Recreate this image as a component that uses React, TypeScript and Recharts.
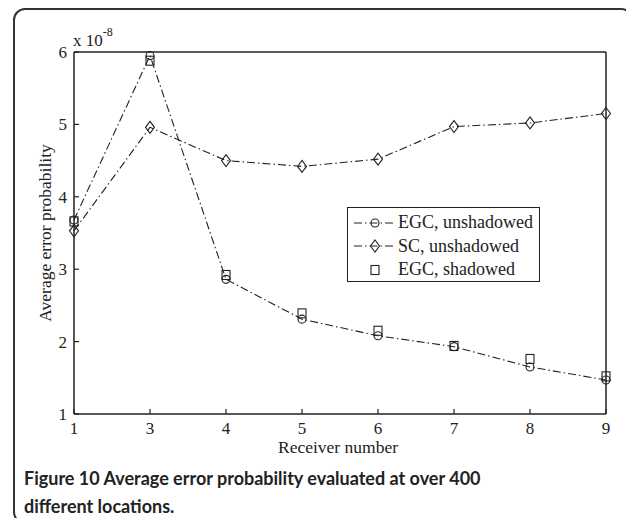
import React from 'react';
import { LineChart, Line, XAxis, YAxis } from 'recharts';

// receiver numbers as printed on the axis (the second one really reads "3")
const receivers = ['1', '3', '4', '5', '6', '7', '8', '9'];
// average error probability, in units of 1e-8
const egcUnshadowed = [3.68, 5.95, 2.86, 2.31, 2.08, 1.93, 1.65, 1.47];
const scUnshadowed = [3.53, 4.96, 4.5, 4.42, 4.52, 4.97, 5.02, 5.15];
const egcShadowed = [3.66, 5.88, 2.92, 2.39, 2.15, 1.94, 1.76, 1.52];
const yTicks = [1, 2, 3, 4, 5, 6];

const data = receivers.map((r, i) => ({
    receiver: r,
    egc: egcUnshadowed[i],
    sc: scUnshadowed[i],
    egcShadowed: egcShadowed[i],
}));

const INK = '#222';
const DASH = '8 3 1.5 3';
const serif = '"Liberation Serif", "Times New Roman", serif';

type Marker = 'circle' | 'diamond' | 'square';

const drawMarker = (kind: Marker, cx: number, cy: number, key?: React.Key) => {
    if (kind === 'circle') {
        return <circle key={key} cx={cx} cy={cy} r={4} fill="none" stroke={INK} strokeWidth={1.1} />;
    }
    if (kind === 'diamond') {
        const pts = `${cx},${cy - 6} ${cx + 4.5},${cy} ${cx},${cy + 6} ${cx - 4.5},${cy}`;
        return <polygon key={key} points={pts} fill="none" stroke={INK} strokeWidth={1.1} />;
    }
    return <rect key={key} x={cx - 4} y={cy - 4.5} width={8} height={9} fill="none" stroke={INK} strokeWidth={1.1} />;
};

const markerDot = (kind: Marker) => (props: any) => {
    const { cx, cy, index } = props;
    if (cx == null || cy == null) return <g key={`m-${kind}-${index}`} />;
    return drawMarker(kind, cx, cy, `m-${kind}-${index}`);
};

const series = [
    { key: 'egc', name: 'EGC, unshadowed', marker: 'circle' as Marker, line: true },
    { key: 'sc', name: 'SC, unshadowed', marker: 'diamond' as Marker, line: true },
    { key: 'egcShadowed', name: 'EGC, shadowed', marker: 'square' as Marker, line: false },
];

function LegendBox() {
    return (
        <div
            style={{
                position: 'absolute',
                left: 347,
                top: 207,
                width: 193,
                height: 75,
                border: `1px solid ${INK}`,
                background: '#fff',
                boxSizing: 'border-box',
                paddingTop: 3,
            }}
        >
            {series.map((s) => (
                <div key={s.key} style={{ display: 'flex', alignItems: 'center', height: 23.5 }}>
                    <svg width={46} height={20} style={{ marginLeft: 4 }}>
                        {s.line && <line x1={2} y1={10} x2={44} y2={10} stroke={INK} strokeWidth={1.1} strokeDasharray={DASH} />}
                        {drawMarker(s.marker, 23, 10)}
                    </svg>
                    <span style={{ fontFamily: serif, fontSize: 18, color: INK }}>{s.name}</span>
                </div>
            ))}
        </div>
    );
}

export default function App() {
    const tickStyle = { fontSize: 17, fill: INK, fontFamily: serif };

    return (
        <div style={{ position: 'relative', width: 634, height: 526, margin: -8, background: '#fff', overflow: 'hidden' }}>
            <div
                style={{
                    position: 'absolute',
                    left: 13,
                    top: 8,
                    width: 620,
                    height: 516,
                    border: '2px solid #333',
                    borderRadius: 12,
                    boxSizing: 'border-box',
                }}
            />

            <div style={{ position: 'absolute', left: 0, top: 0 }}>
                <LineChart width={634} height={470} data={data} margin={{ top: 51, right: 27, bottom: 26, left: 44 }}>
                    <XAxis
                        dataKey="receiver"
                        type="category"
                        interval={0}
                        height={30}
                        tick={tickStyle}
                        tickSize={-5}
                        tickMargin={13}
                        axisLine={{ stroke: INK, strokeWidth: 1.5 }}
                        tickLine={{ stroke: INK, strokeWidth: 1.2 }}
                    />
                    <XAxis
                        xAxisId="top"
                        orientation="top"
                        dataKey="receiver"
                        type="category"
                        interval={0}
                        height={1}
                        tick={false}
                        tickSize={-5}
                        axisLine={{ stroke: INK, strokeWidth: 1.5 }}
                        tickLine={{ stroke: INK, strokeWidth: 1.2 }}
                    />
                    <YAxis
                        type="number"
                        domain={[1, 6]}
                        ticks={yTicks}
                        interval={0}
                        width={30}
                        tick={tickStyle}
                        tickSize={-5}
                        tickMargin={12}
                        axisLine={{ stroke: INK, strokeWidth: 1.5 }}
                        tickLine={{ stroke: INK, strokeWidth: 1.2 }}
                    />
                    <YAxis
                        yAxisId="right"
                        orientation="right"
                        type="number"
                        domain={[1, 6]}
                        ticks={yTicks}
                        interval={0}
                        width={1}
                        tick={false}
                        tickSize={-5}
                        axisLine={{ stroke: INK, strokeWidth: 1.5 }}
                        tickLine={{ stroke: INK, strokeWidth: 1.2 }}
                    />
                    {series.map((s) => (
                        <Line
                            key={s.key}
                            dataKey={s.key}
                            name={s.name}
                            type="linear"
                            stroke={s.line ? INK : 'none'}
                            strokeWidth={1.1}
                            strokeDasharray={s.line ? DASH : undefined}
                            dot={markerDot(s.marker)}
                            activeDot={false}
                            isAnimationActive={false}
                        />
                    ))}
                </LineChart>
            </div>

            <div style={{ position: 'absolute', left: 73, top: 31, fontFamily: serif, fontSize: 17, color: INK, whiteSpace: 'nowrap' }}>
                x 10<span style={{ position: 'relative', top: -10, fontSize: 12 }}>-8</span>
            </div>

            <div
                style={{
                    position: 'absolute',
                    left: 45,
                    top: 233,
                    transform: 'translate(-50%, -50%) rotate(-90deg)',
                    fontFamily: serif,
                    fontSize: 17.5,
                    color: INK,
                    whiteSpace: 'nowrap',
                }}
            >
                Average error probability
            </div>

            <div
                style={{
                    position: 'absolute',
                    left: 338,
                    top: 447,
                    transform: 'translate(-50%, -50%)',
                    fontFamily: serif,
                    fontSize: 17.5,
                    color: INK,
                    whiteSpace: 'nowrap',
                }}
            >
                Receiver number
            </div>

            <LegendBox />

            <div
                style={{
                    position: 'absolute',
                    left: 24,
                    top: 464,
                    fontFamily: 'Lato, "Open Sans", sans-serif',
                    fontWeight: 700,
                    fontSize: 18,
                    lineHeight: '28px',
                    color: '#222',
                    whiteSpace: 'nowrap',
                }}
            >
                Figure 10 Average error probability evaluated at over 400
                <br />
                different locations.
            </div>
        </div>
    );
}
